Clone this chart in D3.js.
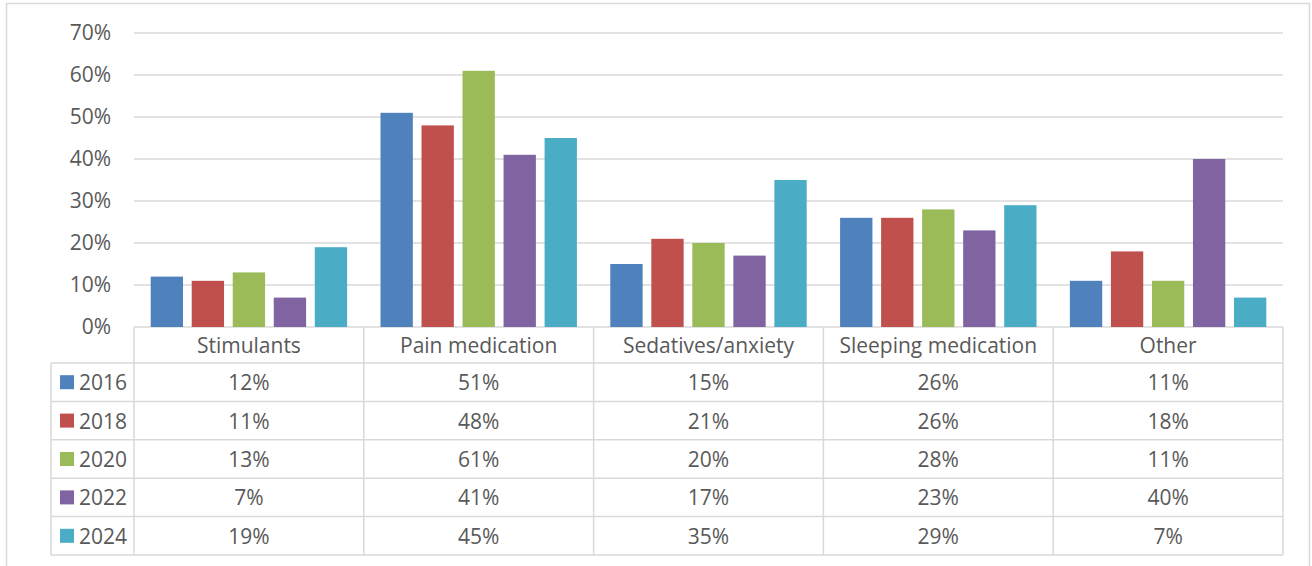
<!DOCTYPE html>
<html>
<head>
<meta charset="utf-8">
<script src="https://cdn.jsdelivr.net/npm/d3@7"></script>
<style>
  html, body { margin: 0; padding: 0; background: #fff; }
  svg { display: block; }
  text { font-family: "Open Sans", "Noto Sans", sans-serif; fill: #595959; }
</style>
</head>
<body>
<svg id="chart" width="1312" height="566"></svg>
<script>
// Categories, series and values (share of respondents, %)
const categories = ["Stimulants", "Pain medication", "Sedatives/anxiety", "Sleeping medication", "Other"];
const years = ["2016", "2018", "2020", "2022", "2024"];
const values2016 = [12, 51, 15, 26, 11];
const values2018 = [11, 48, 21, 26, 18];
const values2020 = [13, 61, 20, 28, 11];
const values2022 = [7, 41, 17, 23, 40];
const values2024 = [19, 45, 35, 29, 7];
const yTicks = [0, 10, 20, 30, 40, 50, 60, 70];
const colors = ["#4F81BD", "#C0504D", "#9BBB59", "#8064A2", "#4BACC6"];

const seriesValues = [values2016, values2018, values2020, values2022, values2024];
const series = years.map((y, i) => ({ year: y, color: colors[i], values: seriesValues[i] }));

const svg = d3.select("#chart");
const gridColor = "#D9D9D9";
const fontSize = "21px";

// Outer chart frame
svg.append("rect")
  .attr("x", 6.5).attr("y", 3.5).attr("width", 1303).attr("height", 620)
  .attr("fill", "#fff").attr("stroke", gridColor).attr("stroke-width", 1.5);

const plotLeft = 134, plotRight = 1283, plotTop = 33, plotBottom = 327;
const tableLeft = 51;
const headerBottom = 363, rowH = 38.4;

const x0 = d3.scaleBand().domain(categories).range([plotLeft, plotRight]).padding(0);
const x1 = d3.scaleBand().domain(years).range([0, x0.bandwidth()])
  .paddingInner(0.212).paddingOuter(0.407);
const y = d3.scaleLinear().domain([0, 70]).range([plotBottom, plotTop]);

// Horizontal gridlines
svg.append("g").selectAll("line").data(yTicks).join("line")
  .attr("x1", plotLeft).attr("x2", plotRight)
  .attr("y1", d => y(d)).attr("y2", d => y(d))
  .attr("stroke", gridColor).attr("stroke-width", 1.5);

// Y axis labels
const yAxis = d3.axisLeft(y).tickValues(yTicks).tickFormat(d => d + "%").tickSize(0).tickPadding(0);
const yg = svg.append("g").attr("transform", `translate(111,0)`).call(yAxis);
yg.select(".domain").remove();
yg.selectAll("text").style("font-size", fontSize).attr("fill", "#595959")
  .style("font-family", '"Open Sans", sans-serif');

// Bars
const groups = svg.append("g").selectAll("g").data(categories).join("g")
  .attr("transform", d => `translate(${x0(d)},0)`);
groups.selectAll("rect")
  .data((c, ci) => series.map(s => ({ year: s.year, color: s.color, v: s.values[ci] })))
  .join("rect")
  .attr("x", d => x1(d.year))
  .attr("width", x1.bandwidth())
  .attr("y", d => y(d.v))
  .attr("height", d => y(0) - y(d.v))
  .attr("fill", d => d.color);

// Data table
const table = svg.append("g");
const lineAttr = sel => sel.attr("stroke", gridColor).attr("stroke-width", 1.5);
const tableBottom = headerBottom + rowH * years.length;

// vertical lines at category boundaries
const bounds = categories.map(c => x0(c)).concat([plotRight]);
table.selectAll("line.v").data(bounds).join("line").attr("class", "v")
  .attr("x1", d => d).attr("x2", d => d)
  .attr("y1", plotBottom).attr("y2", tableBottom).call(lineAttr);
table.append("line")
  .attr("x1", tableLeft).attr("x2", tableLeft)
  .attr("y1", headerBottom).attr("y2", tableBottom).call(lineAttr);
// horizontal row lines
const rowLines = d3.range(years.length + 1).map(i => headerBottom + i * rowH);
table.selectAll("line.h").data(rowLines).join("line").attr("class", "h")
  .attr("x1", tableLeft).attr("x2", plotRight)
  .attr("y1", d => d).attr("y2", d => d).call(lineAttr);

// header labels
table.selectAll("text.cat").data(categories).join("text").attr("class", "cat")
  .attr("x", d => x0(d) + x0.bandwidth() / 2)
  .attr("y", (plotBottom + headerBottom) / 2)
  .attr("text-anchor", "middle").attr("dominant-baseline", "central")
  .style("font-size", fontSize).text(d => d);

// rows
const rows = table.selectAll("g.row").data(series).join("g").attr("class", "row")
  .attr("transform", (d, i) => `translate(0,${headerBottom + i * rowH + rowH / 2})`);
rows.append("rect")
  .attr("x", 60).attr("y", -7).attr("width", 14).attr("height", 14)
  .attr("fill", d => d.color);
rows.append("text")
  .attr("x", 79).attr("y", 0).attr("dominant-baseline", "central")
  .style("font-size", fontSize).text(d => d.year);
rows.selectAll("text.val")
  .data(d => d.values.map((v, i) => ({ v, c: categories[i] })))
  .join("text").attr("class", "val")
  .attr("x", d => x0(d.c) + x0.bandwidth() / 2)
  .attr("y", 0).attr("text-anchor", "middle").attr("dominant-baseline", "central")
  .style("font-size", fontSize).text(d => d.v + "%");
</script>
</body>
</html>
